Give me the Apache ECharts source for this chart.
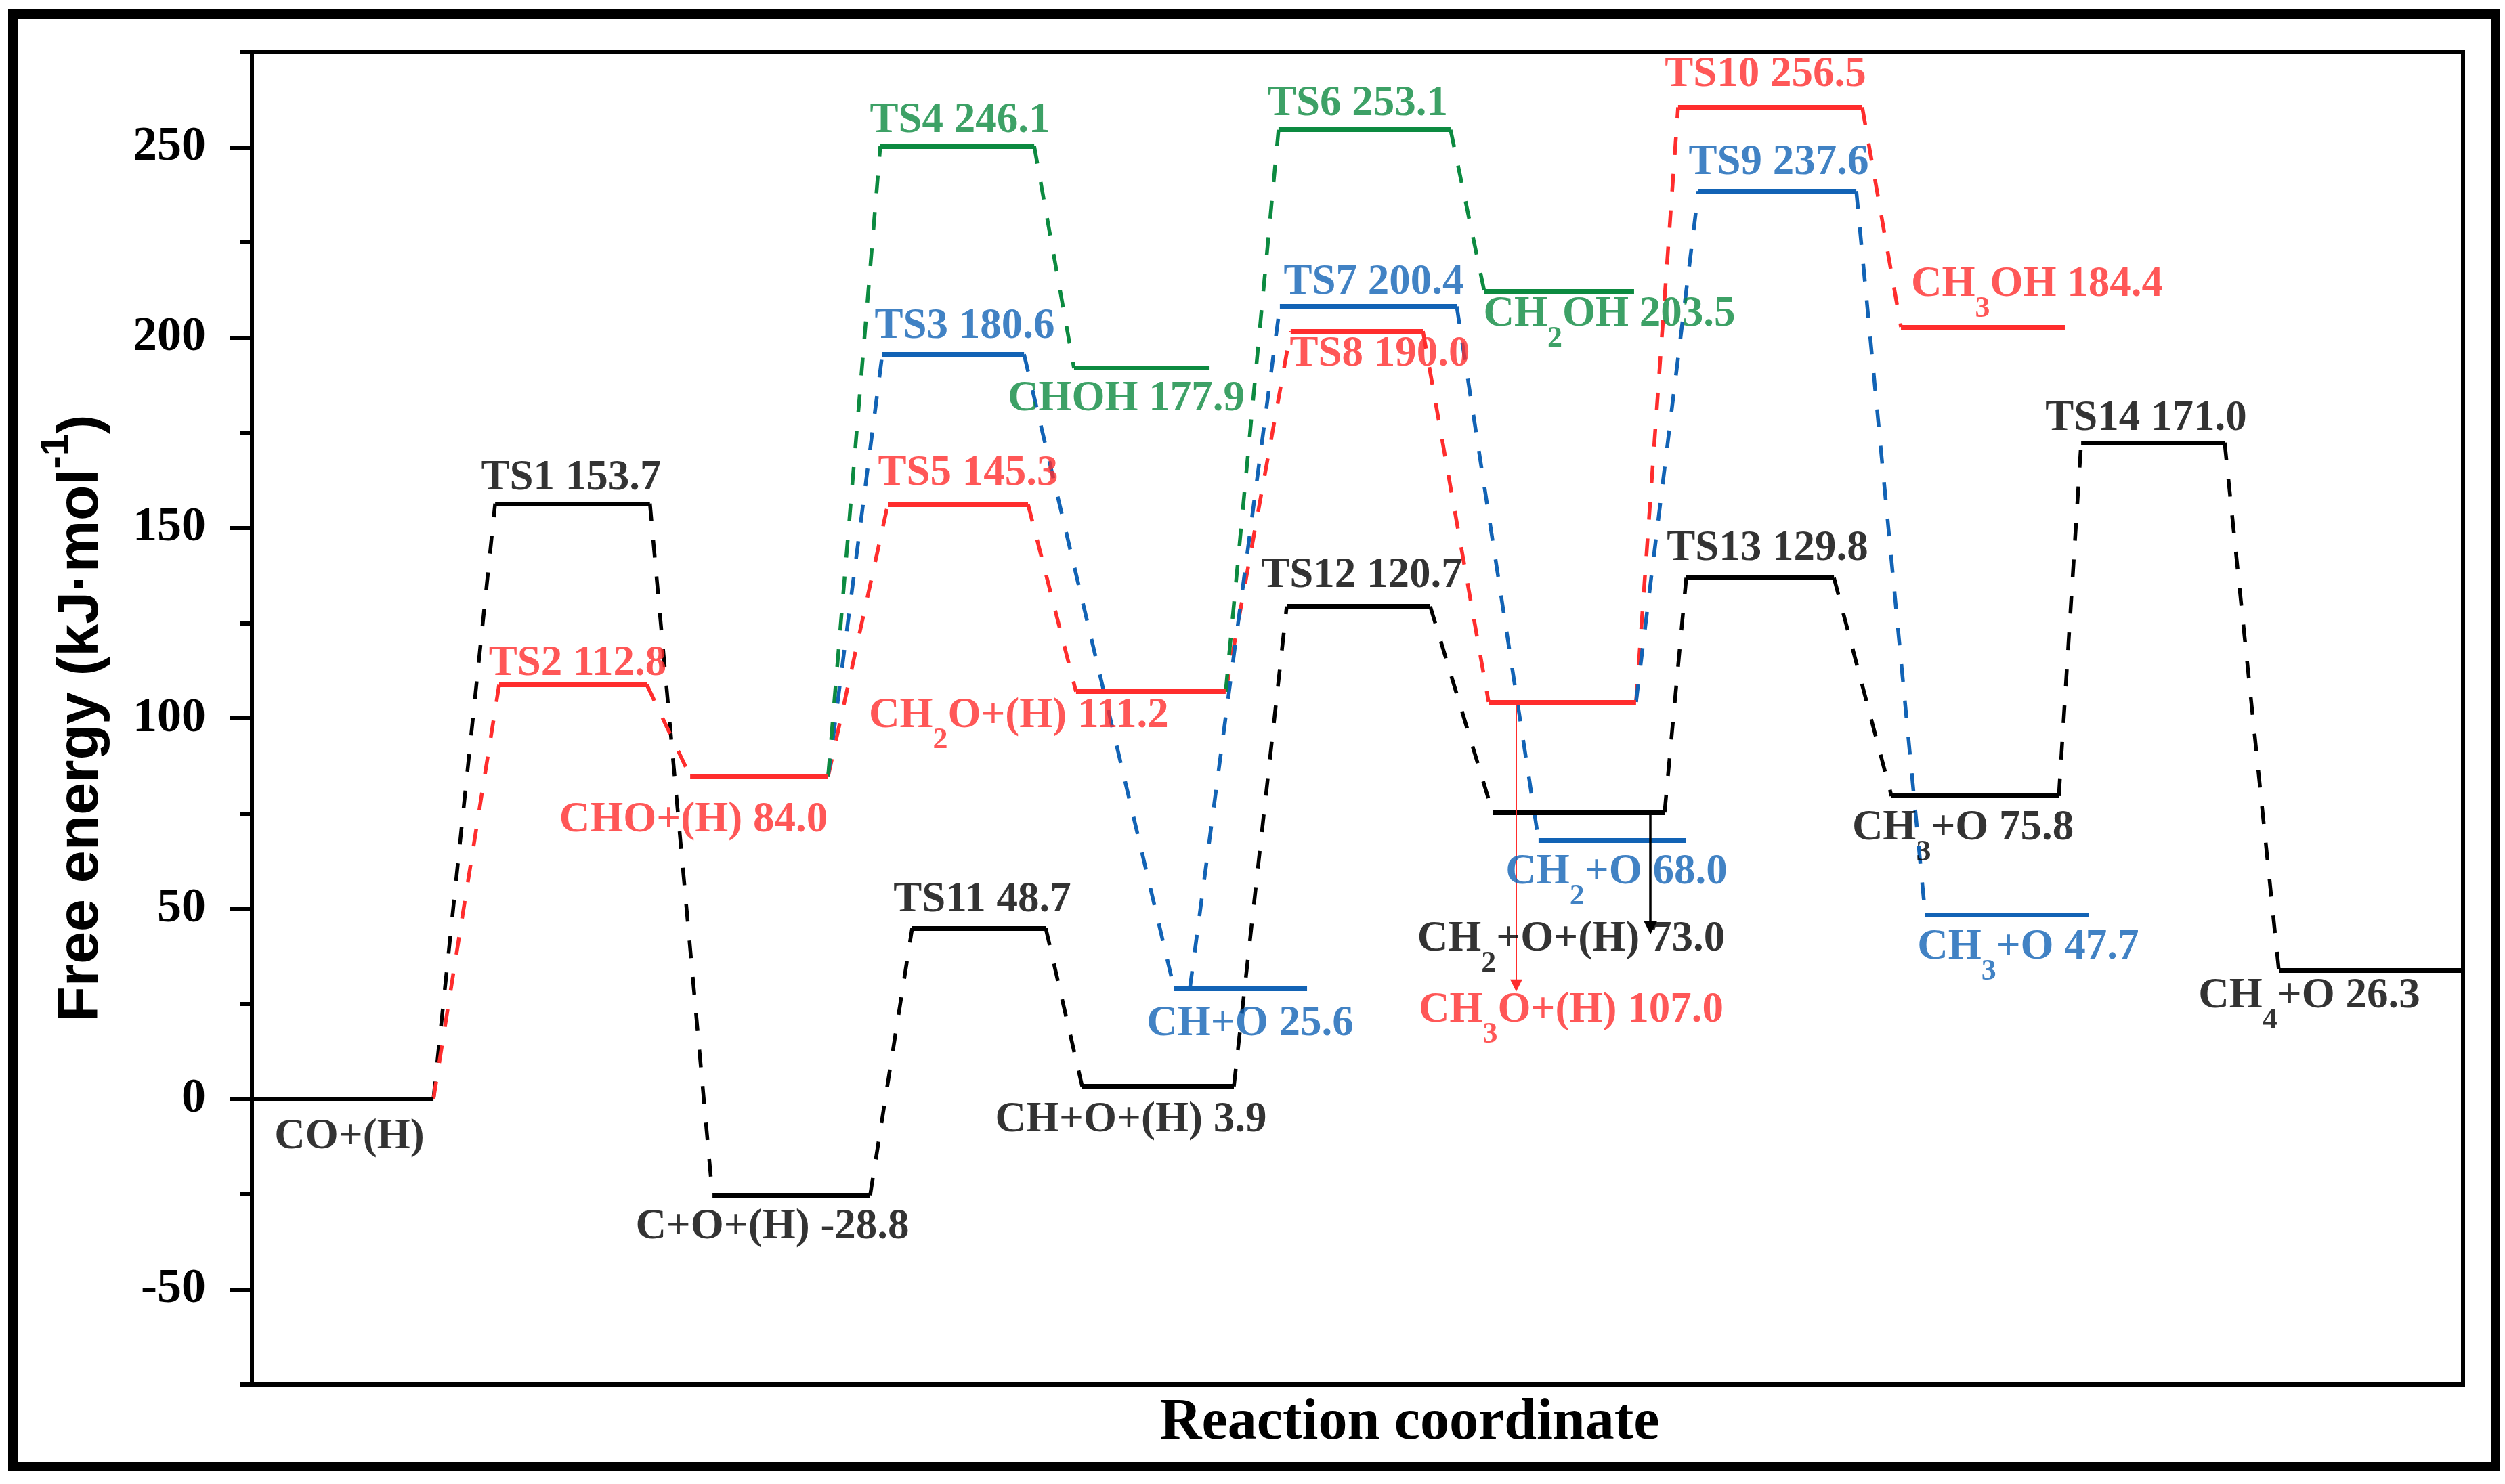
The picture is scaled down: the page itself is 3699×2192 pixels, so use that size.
<!DOCTYPE html>
<html>
<head>
<meta charset="utf-8">
<script src="https://cdn.jsdelivr.net/npm/echarts/dist/echarts.min.js"></script>
<style>
html,body{margin:0;padding:0;background:#ffffff;}
#chart{width:3699px;height:2192px;}
</style>
</head>
<body>
<div id="chart"></div>
<script>
// ---------------- DATA ----------------
// Black pathway (direct C-O scission route)
const blackNames   = ['CO+(H)', 'TS1', 'C+O+(H)', 'TS11', 'CH+O+(H)', 'TS12', 'CH2+O+(H)', 'TS13', 'CH3+O', 'TS14', 'CH4+O'];
const blackPrinted = [null, 153.7, -28.8, 48.7, 3.9, 120.7, 73.0, 129.8, 75.8, 171.0, 26.3];
const blackLevel   = [0, 156.4, -25.3, 44.9, 3.3, 129.4, 75.3, 136.9, 79.6, 172.4, 33.8];
const blackStart   = [0, 11.0, 20.83, 29.86, 37.55, 46.80, 56.11, 64.87, 74.15, 82.73, 91.67];
const blackEnd     = [8.21, 18.0, 27.96, 35.90, 44.41, 53.29, 63.89, 71.55, 81.72, 89.22, 100];

// Red pathway (hydrogenation to CH3OH)
const redNames   = ['TS2', 'CHO+(H)', 'TS5', 'CH2O+(H)', 'TS8', 'CH3O+(H)', 'TS10', 'CH3OH'];
const redPrinted = [112.8, 84.0, 145.3, 111.2, 190.0, 107.0, 256.5, 184.4];
const redLevel   = [108.8, 84.8, 156.2, 107.0, 201.7, 104.3, 260.5, 202.8];
const redStart   = [11.18, 19.82, 28.76, 37.27, 46.98, 55.93, 64.50, 74.58];
const redEnd     = [17.86, 26.06, 35.10, 44.04, 52.96, 62.60, 72.83, 81.99];

// Blue pathway
const blueNames   = ['TS3', 'CH+O', 'TS7', 'CH2+O', 'TS9', 'CH3+O'];
const bluePrinted = [180.6, 25.6, 200.4, 68.0, 237.6, 47.7];
const blueLevel   = [195.6, 29.0, 208.2, 68.0, 238.5, 48.3];
const blueStart   = [28.51, 41.71, 46.49, 58.19, 65.42, 75.68];
const blueEnd     = [34.92, 47.72, 54.49, 64.87, 72.56, 83.09];

// Green pathway
const greenNames   = ['TS4', 'CHOH', 'TS6', 'CH2OH'];
const greenPrinted = [246.1, 177.9, 253.1, 203.5];
const greenLevel   = [250.3, 192.0, 254.6, 212.1];
const greenStart   = [28.42, 37.18, 46.43, 55.74];
const greenEnd     = [35.38, 43.31, 54.21, 62.51];

// Dashed connectors: [from level, to level, optional x where the connector leaves the from-level]
const blackLinks = [['k:CO+(H)','k:TS1'],['k:TS1','k:C+O+(H)'],['k:C+O+(H)','k:TS11'],['k:TS11','k:CH+O+(H)'],
  ['k:CH+O+(H)','k:TS12'],['k:TS12','k:CH2+O+(H)'],['k:CH2+O+(H)','k:TS13'],['k:TS13','k:CH3+O'],
  ['k:CH3+O','k:TS14'],['k:TS14','k:CH4+O']];
const redLinks = [['k:CO+(H)','r:TS2'],['r:TS2','r:CHO+(H)'],['r:CHO+(H)','r:TS5'],['r:TS5','r:CH2O+(H)'],
  ['r:CH2O+(H)','r:TS8'],['r:TS8','r:CH3O+(H)'],['r:CH3O+(H)','r:TS10'],['r:TS10','r:CH3OH']];
const blueLinks = [['r:CHO+(H)','b:TS3'],['b:TS3','b:CH+O'],['b:CH+O','b:TS7',42.42],['b:TS7','b:CH2+O'],
  ['r:CH3O+(H)','b:TS9'],['b:TS9','b:CH3+O']];
const greenLinks = [['r:CHO+(H)','g:TS4'],['g:TS4','g:CHOH'],['r:CH2O+(H)','g:TS6'],['g:TS6','g:CH2OH']];

// Vertical arrows: level they start from, x position, value they point to
const arrowFrom = ['k:CH2+O+(H)', 'r:CH3O+(H)'];
const arrowX    = [63.25, 57.18];
const arrowTo   = [45.0, 29.8];

// Axis ticks
const yMajorTicks = [-50, 0, 50, 100, 150, 200, 250];
const yMinorTicks = [-75, -25, 25, 75, 125, 175, 225, 275];

// ---------------- LAYOUT / STYLE (kept apart from data) ----------------
const COLORS = { k: '#000000', r: '#ff2d2d', b: '#1263b5', g: '#0c8a40' };
const labelOffsets = {
  k: [[10,56],[-2,-37],[-28,47],[5,-41],[-40,50],[5,-45],[-11,188],[11,-43],[-18,48],[-10,-35],[-91,38]],
  r: [[7,-31],[-97,65],[15,-45],[-195,36],[34,35],[13,456],[-7,-48],[80,-62]],
  b: [[17,-41],[14,52],[8,-35],[6,48],[2,-42],[31,48]],
  g: [[4,-37],[-23,46],[-10,-38],[74,34]]
};
const SERIF = "'Liberation Serif','Times New Roman',serif";
const SANS = "'Liberation Sans',Arial,sans-serif";
const LABEL_SIZE = 63;

// ---------------- BUILD ----------------
const levels = {};
function addPath(key, names, printed, level, start, end) {
  const arr = names.map((n, i) => ({ key, name: n, printed: printed[i], y: level[i], x0: start[i], x1: end[i], idx: i }));
  arr.forEach(l => { levels[key + ':' + l.name] = l; });
  return arr;
}
const paths = {
  k: addPath('k', blackNames, blackPrinted, blackLevel, blackStart, blackEnd),
  r: addPath('r', redNames, redPrinted, redLevel, redStart, redEnd),
  b: addPath('b', blueNames, bluePrinted, blueLevel, blueStart, blueEnd),
  g: addPath('g', greenNames, greenPrinted, greenLevel, greenStart, greenEnd)
};
const links = { k: blackLinks, r: redLinks, b: blueLinks, g: greenLinks };

function richText(name, printed) {
  const t = name.replace(/H(\d)/g, 'H{s|$1}');
  return printed === null ? t : t + ' ' + printed.toFixed(1);
}

const series = [];
Object.keys(paths).forEach(key => {
  const color = COLORS[key];
  // dashed connectors
  series.push({
    type: 'lines', coordinateSystem: 'cartesian2d', polyline: false, silent: true, z: 2,
    lineStyle: { color, width: 5.5, type: [26, 28], opacity: 1 },
    data: links[key].map(l => {
      const a = levels[l[0]], b = levels[l[1]];
      const fx = l[2] !== undefined ? l[2] : a.x1;
      return { coords: [[fx, a.y], [b.x0, b.y]] };
    })
  });
  // solid energy levels
  series.push({
    type: 'lines', coordinateSystem: 'cartesian2d', polyline: false, silent: true, z: 3,
    lineStyle: { color, width: 7, type: 'solid', opacity: 1, cap: 'butt' },
    data: paths[key].map(l => ({ coords: [[l.x0, l.y], [l.x1, l.y]] }))
  });
  // labels
  series.push({
    type: 'scatter', silent: true, z: 5,
    symbol: 'circle', symbolSize: 1, itemStyle: { color: 'rgba(0,0,0,0)' },
    label: {
      show: true, position: 'inside', color, fontFamily: SERIF, fontWeight: 'bold',
      fontSize: LABEL_SIZE, lineHeight: 116,
      rich: { s: { fontSize: 44, verticalAlign: 'bottom', color, fontFamily: SERIF, fontWeight: 'bold' } }
    },
    data: paths[key].map((l, i) => ({
      value: [(l.x0 + l.x1) / 2, l.y],
      label: { offset: labelOffsets[key][i], formatter: richText(l.name, l.printed) }
    }))
  });
});

// arrows
arrowFrom.forEach((f, i) => {
  const lv = levels[f];
  const color = COLORS[lv.key];
  series.push({
    type: 'lines', coordinateSystem: 'cartesian2d', polyline: false, silent: true, z: 4,
    symbol: ['none', 'triangle'], symbolSize: lv.key === 'k' ? 20 : 18,
    lineStyle: { color, width: lv.key === 'k' ? 3.5 : 2, type: 'solid', opacity: 1 },
    data: [{ coords: [[arrowX[i], lv.y], [arrowX[i], arrowTo[i]]] }]
  });
});

const chart = echarts.init(document.getElementById('chart'), null, { renderer: 'canvas' });
chart.setOption({
  animation: false,
  backgroundColor: '#ffffff',
  grid: { left: 372, right: 62, top: 77, bottom: 147, show: true, borderColor: '#000', borderWidth: 6, containLabel: false },
  graphic: [{
    type: 'rect', silent: true, z: 100,
    shape: { x: 19, y: 21, width: 3666, height: 2145 },
    style: { fill: 'none', stroke: '#000', lineWidth: 14 }
  }],
  xAxis: {
    type: 'value', min: 0, max: 100,
    name: 'Reaction coordinate', nameLocation: 'middle', nameGap: 13,
    nameTextStyle: { fontFamily: SERIF, fontWeight: 'bold', fontSize: 86, color: '#000', lineHeight: 90, padding: [0, 0, 0, 154] },
    axisLine: { show: true, onZero: false, lineStyle: { color: '#000', width: 6 } },
    axisTick: { show: false }, axisLabel: { show: false }, splitLine: { show: false }
  },
  yAxis: [{
    type: 'value', min: -75, max: 275,
    name: 'Free energy (kJ·mol{sup|-1})', nameLocation: 'middle', nameGap: 157, nameRotate: 90,
    nameTextStyle: {
      fontFamily: SANS, fontWeight: 'bold', fontSize: 86, color: '#000', lineHeight: 130,
      rich: { sup: { fontFamily: SANS, fontWeight: 'bold', fontSize: 58, verticalAlign: 'top', color: '#000' } }
    },
    axisLine: { show: true, onZero: false, lineStyle: { color: '#000', width: 6 } },
    axisTick: { show: true, inside: false, length: 32, customValues: yMajorTicks, lineStyle: { color: '#000', width: 6 } },
    axisLabel: { show: true, customValues: yMajorTicks, margin: 68, fontFamily: SERIF, fontWeight: 'bold', fontSize: 72, color: '#000' },
    splitLine: { show: false }
  }, {
    type: 'value', min: -75, max: 275, position: 'left',
    axisLine: { show: false },
    axisTick: { show: true, inside: false, length: 18, customValues: yMinorTicks, lineStyle: { color: '#000', width: 6 } },
    axisLabel: { show: false }, splitLine: { show: false }
  }],
  series: series
});
</script>
</body>
</html>
